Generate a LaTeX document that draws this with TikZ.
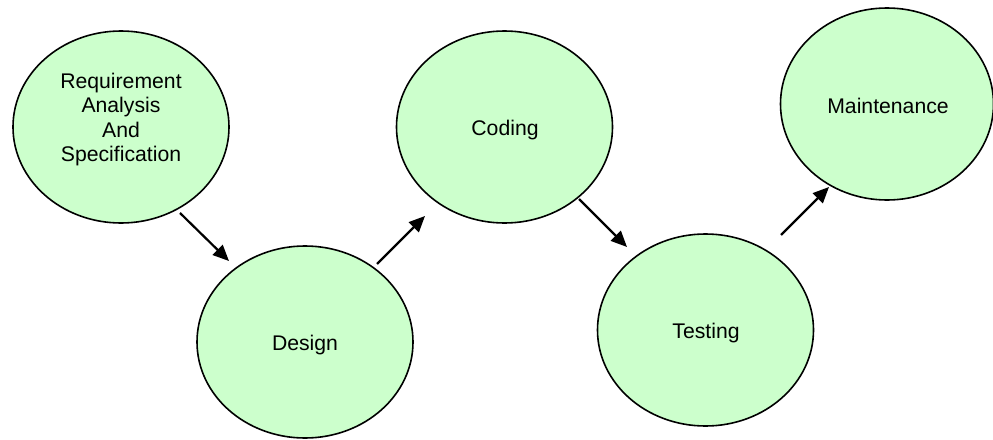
\documentclass[tikz,border=0pt]{standalone}
\usepackage{fontspec}
\setmainfont{Liberation Sans}
\usetikzlibrary{shapes.geometric,arrows.meta}
\definecolor{phasefill}{HTML}{CCFFCC}
\begin{document}
\begin{tikzpicture}[x=1pt,y=-1pt,
  phase/.style={draw=black,line width=1.6pt,fill=phasefill,ellipse,inner sep=0pt,
    minimum width=216pt,minimum height=192pt},
  txt/.style={font=\fontsize{21.2}{24.6}\selectfont,align=center,inner sep=0pt},
  flow/.style={line width=2.2pt,-{Triangle[length=16pt,width=14pt]}}]
\useasboundingbox (0,0) rectangle (993,439);
\node[phase] (req) at (121,127) {};
\node[phase] (des) at (305,342) {};
\node[phase] (cod) at (504.5,127) {};
\node[phase] (tes) at (705.5,330) {};
\node[phase,minimum width=213pt] (mai) at (887,104) {};
\node[txt] (reqt) at (121,119.5) {Requirement\\Analysis\\And\\Specification};
\node[txt] (dest) at (305,345) {Design};
\node[txt] (codt) at (505,130) {Coding};
\node[txt] (test) at (706,333) {Testing};
\node[txt] (mait) at (888,106) {Maintenance};
\coordinate (a1s) at (180,213);
\coordinate (a1e) at (229,261);
\coordinate (a2s) at (377,264);
\coordinate (a2e) at (425,216);
\coordinate (a3s) at (579,199);
\coordinate (a3e) at (627,247);
\coordinate (a4s) at (781,235);
\coordinate (a4e) at (829,187);
\draw[flow] (a1s) -- (a1e);
\draw[flow] (a2s) -- (a2e);
\draw[flow] (a3s) -- (a3e);
\draw[flow] (a4s) -- (a4e);
\end{tikzpicture}
\end{document}
